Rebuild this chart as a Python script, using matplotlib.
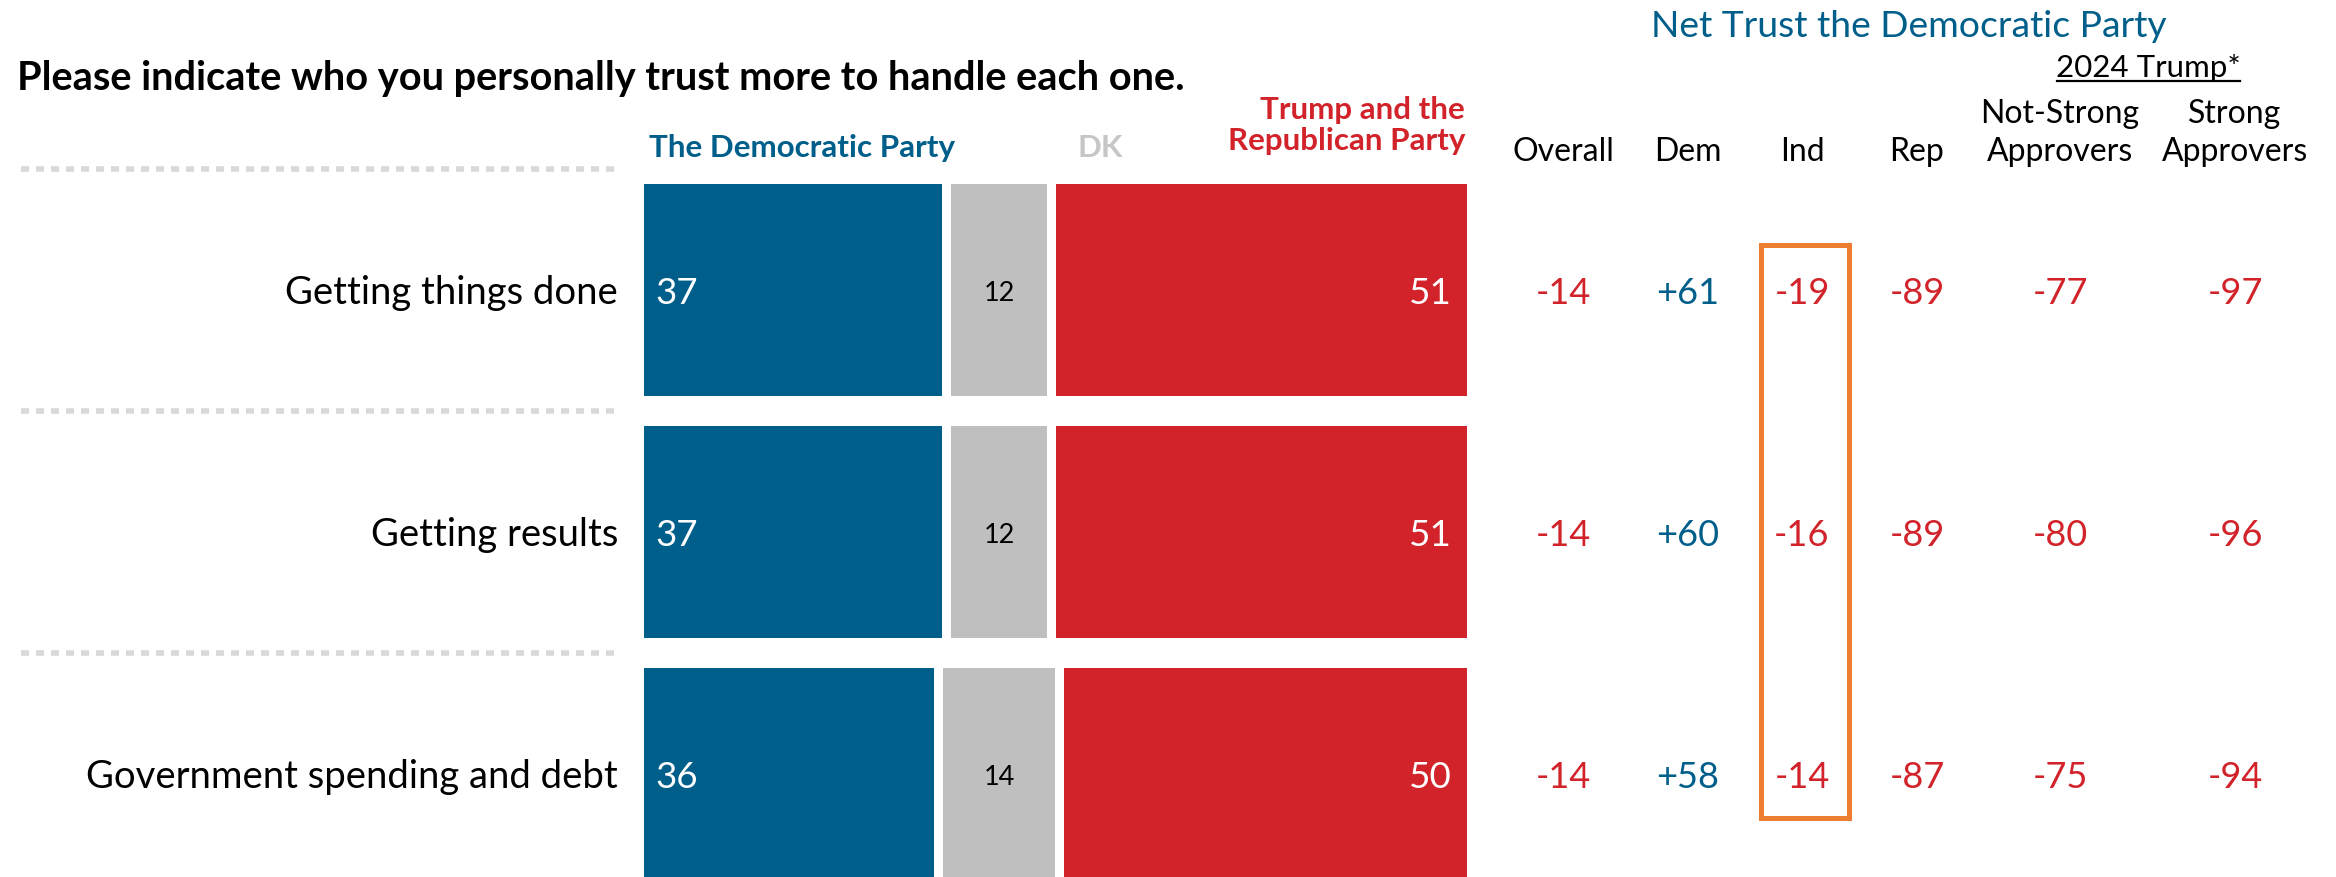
import matplotlib
matplotlib.use("Agg")
import matplotlib.pyplot as plt

plt.rcParams['font.family'] = ['Lato', 'DejaVu Sans']
plt.rcParams['lines.scale_dashes'] = False

# ---------------- data ----------------
categories = ["Getting things done", "Getting results", "Government spending and debt"]
dem_party = [37, 37, 36]
dk = [12, 12, 14]
rep_party = [51, 51, 50]

col_labels = ["Overall", "Dem", "Ind", "Rep", "Not-Strong\nApprovers", "Strong\nApprovers"]
net_overall = [-14, -14, -14]
net_dem = [61, 60, 58]
net_ind = [-19, -16, -14]
net_rep = [-89, -89, -87]
net_notstrong = [-77, -80, -75]
net_strong = [-97, -96, -94]
net_cols = [net_overall, net_dem, net_ind, net_rep, net_notstrong, net_strong]

title = "Please indicate who you personally trust more to handle each one."
net_title = "Net Trust the Democratic Party"
subgroup = "2024 Trump*"
leg_dem = "The Democratic Party"
leg_dk = "DK"
leg_rep = "Trump and the\nRepublican Party"

# ---------------- style ----------------
BLUE = '#005e8a'
RED = '#d2222a'
GRAY = '#bfbfbf'
DKTXT = '#c6c6c6'
SEP = '#d9d9d9'
ORANGE = '#ed7d31'

W, H = 2336, 878
fig = plt.figure(figsize=(W / 100, H / 100), dpi=100)

# row geometry (pixels from top)
row0, pitch, bar_px = 291, 242, 212
ylo = (H - row0) / pitch
yhi = -row0 / pitch

PX = 0.72  # points per pixel at dpi 100

# bars axes
bar_left, bar_right = 644, 1467
gap = 1.118
ax = fig.add_axes([bar_left / W, 0, (bar_right - bar_left) / W, 1])
ax.set_xlim(0, 100 + 2 * gap)
ax.set_ylim(ylo, yhi)
ax.axis('off')
h = bar_px / pitch
ys = list(range(len(categories)))
left_dk = [d + gap for d in dem_party]
left_rep = [d + gap + k + gap for d, k in zip(dem_party, dk)]
ax.barh(ys, dem_party, height=h, left=0, color=BLUE)
ax.barh(ys, dk, height=h, left=left_dk, color=GRAY)
ax.barh(ys, rep_party, height=h, left=left_rep, color=RED)
for i in ys:
    ax.annotate(f"{dem_party[i]}", (0, i), xytext=(11 * PX, -13 * PX), textcoords='offset points',
                color='white', fontsize=26.5, ha='left', va='baseline')
    ax.annotate(f"{dk[i]}", (left_dk[i] + dk[i] / 2, i), xytext=(0, -10 * PX),
                textcoords='offset points', color='black', fontsize=19.5, ha='center', va='baseline')
    ax.annotate(f"{rep_party[i]}", (left_rep[i] + rep_party[i], i), xytext=(-15 * PX, -13 * PX),
                textcoords='offset points', color='white', fontsize=26.5, ha='right', va='baseline')

# overlay axes in pixel coordinates
ov = fig.add_axes([0, 0, 1, 1])
ov.set_xlim(0, W)
ov.set_ylim(H, 0)
ov.axis('off')
ov.patch.set_alpha(0)


def lines_text(x, last_baseline, text, step, **kw):
    parts = text.split("\n")
    n = len(parts)
    for k, line in enumerate(parts):
        ov.text(x, last_baseline - (n - 1 - k) * step, line, va='baseline', **kw)


ov.text(17, 90, title, fontsize=28.6, fontweight='bold', ha='left', va='baseline')

# legend labels
ov.text(649, 157, leg_dem, color=BLUE, fontsize=22.6, fontweight='bold', ha='left', va='baseline')
ov.text(1100, 157, leg_dk, color=DKTXT, fontsize=22.6, fontweight='bold', ha='center', va='baseline')
lines_text(1465, 150, leg_rep, 31, color=RED, fontsize=22.6, fontweight='bold', ha='right')

# separators and category labels
for i, cat in enumerate(categories):
    yc = row0 + pitch * i
    ov.plot([21, 616], [yc - 121, yc - 121], color=SEP, lw=4, linestyle=(0, (5.8, 5.0)),
            dash_capstyle='butt')
    ov.text(618, yc + 13, cat, fontsize=27.5, ha='right', va='baseline')

# net trust table
col_x = [1563, 1688, 1802, 1917, 2060, 2235]
ov.text(1909, 37, net_title, color=BLUE, fontsize=26.8, ha='center', va='baseline')
ov.text(2148, 77, subgroup, fontsize=22.5, ha='center', va='baseline')
ov.plot([2057, 2240], [81.5, 81.5], color='black', lw=1.6)
for x, lab in zip(col_x, col_labels):
    lines_text(x, 161, lab, 38, fontsize=23, ha='center')
for x, vals in zip(col_x, net_cols):
    for i, v in enumerate(vals):
        ov.text(x, row0 + pitch * i + 13, f"{v:+d}", fontsize=26, ha='center', va='baseline',
                color=BLUE if v > 0 else RED)

# highlight box around Ind column
ov.add_patch(plt.Rectangle((1760.5, 245.5), 88, 574, fill=False, edgecolor=ORANGE, lw=3.6))

fig.savefig("out.png", dpi=100, facecolor='white')
